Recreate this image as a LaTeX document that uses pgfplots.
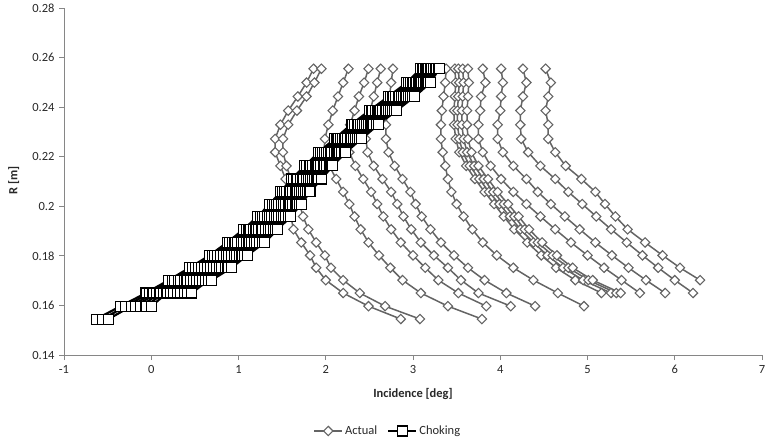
\documentclass[border=0pt]{standalone}
\usepackage{fontspec}
\setmainfont{Carlito}
\usepackage{pgfplots}
\usepackage{pgfplotstable}
\pgfplotsset{compat=1.18}
\definecolor{actgray}{RGB}{100,100,100}
\definecolor{axgray}{RGB}{134,134,134}
\definecolor{txt}{RGB}{40,40,40}

\pgfplotstableread{
R a1 a2 a3 a4 a5 a6 a7 a8 a9 a10 a11 a12 a13 a14 a15 c1 c2 c3 c4 c5 c6 c7 c8 c9 c10 c11 c12 c13 c14 c15
0.1545 2.86 3.08 3.79 nan nan nan nan nan nan nan nan nan nan nan nan -0.63 -0.56 -0.49 nan nan nan nan nan nan nan nan nan nan nan nan
0.1597 2.49 2.68 3.40 3.84 4.12 4.40 4.96 nan nan nan nan nan nan nan nan -0.35 -0.29 -0.23 -0.18 -0.12 -0.06 0.00 nan nan nan nan nan nan nan nan
0.1650 2.20 2.39 3.09 3.52 3.75 4.07 4.66 5.16 5.27 5.33 5.38 5.60 5.89 6.21 nan -0.06 -0.02 0.02 0.06 0.10 0.14 0.18 0.22 0.26 0.30 0.34 0.38 0.42 0.46 nan
0.1702 2.00 2.20 2.88 3.29 3.55 3.82 4.38 4.86 4.95 5.01 5.06 5.39 5.67 6.00 6.29 0.20 0.24 0.27 0.31 0.34 0.38 0.41 0.45 0.48 0.52 0.55 0.59 0.62 0.66 0.69
0.1752 1.89 2.06 2.74 3.14 3.40 3.63 4.15 4.64 4.72 4.78 4.83 5.19 5.47 5.81 6.06 0.44 0.47 0.51 0.54 0.58 0.61 0.64 0.68 0.71 0.75 0.78 0.81 0.85 0.88 0.92
0.1802 1.82 1.99 2.61 3.00 3.24 3.47 3.96 4.47 4.54 4.60 4.65 5.00 5.28 5.63 5.86 0.67 0.70 0.73 0.76 0.79 0.83 0.86 0.89 0.92 0.95 0.98 1.01 1.04 1.07 1.10
0.1854 1.72 1.89 2.49 2.86 3.09 3.32 3.80 4.31 4.38 4.43 4.48 4.81 5.09 5.45 5.66 0.87 0.90 0.93 0.96 0.99 1.03 1.06 1.09 1.12 1.15 1.18 1.21 1.24 1.27 1.30
0.1907 1.63 1.80 2.40 2.75 2.98 3.20 3.68 4.16 4.23 4.28 4.33 4.63 4.91 5.27 5.46 1.06 1.09 1.12 1.14 1.17 1.20 1.23 1.26 1.28 1.31 1.34 1.37 1.40 1.42 1.45
0.1959 1.60 1.74 2.33 2.66 2.89 3.10 3.58 4.04 4.11 4.16 4.21 4.46 4.74 5.10 5.32 1.22 1.25 1.27 1.30 1.33 1.36 1.38 1.41 1.44 1.46 1.49 1.52 1.54 1.57 1.60
0.2009 1.58 1.70 2.27 2.59 2.82 3.03 3.50 3.93 3.99 4.04 4.09 4.30 4.58 4.94 5.20 1.36 1.39 1.41 1.44 1.46 1.49 1.52 1.54 1.57 1.59 1.62 1.65 1.67 1.70 1.72
0.2058 1.56 1.65 2.20 2.52 2.75 2.97 3.44 3.82 3.87 3.92 3.97 4.15 4.43 4.78 5.09 1.48 1.50 1.53 1.55 1.58 1.60 1.62 1.65 1.67 1.70 1.72 1.74 1.77 1.79 1.82
0.2110 1.54 1.60 2.12 2.43 2.65 2.88 3.40 3.71 3.76 3.81 3.86 4.01 4.30 4.63 4.93 1.61 1.63 1.66 1.68 1.71 1.73 1.75 1.78 1.80 1.83 1.85 1.87 1.90 1.92 1.95
0.2163 1.48 1.55 2.04 2.34 2.55 2.79 3.37 3.61 3.65 3.70 3.75 3.89 4.15 4.46 4.75 1.76 1.78 1.81 1.83 1.85 1.88 1.90 1.92 1.94 1.97 1.99 2.01 2.04 2.06 2.08
0.2218 1.42 1.51 1.98 2.27 2.48 2.72 3.34 3.53 3.57 3.62 3.67 3.80 4.03 4.32 4.63 1.92 1.94 1.96 1.99 2.01 2.03 2.05 2.07 2.10 2.12 2.14 2.16 2.18 2.21 2.23
0.2272 1.42 1.51 1.99 2.25 2.46 2.69 3.32 3.49 3.53 3.58 3.63 3.75 3.97 4.24 4.55 2.10 2.12 2.14 2.17 2.19 2.21 2.23 2.25 2.28 2.30 2.32 2.34 2.36 2.39 2.41
0.2329 1.48 1.57 2.03 2.28 2.48 2.69 3.32 3.47 3.51 3.56 3.62 3.75 3.97 4.23 4.55 2.29 2.31 2.33 2.36 2.38 2.40 2.42 2.44 2.47 2.49 2.51 2.53 2.55 2.58 2.60
0.2386 1.57 1.67 2.08 2.33 2.51 2.71 3.33 3.47 3.51 3.56 3.62 3.77 4.00 4.23 4.52 2.50 2.52 2.54 2.57 2.59 2.61 2.63 2.65 2.68 2.70 2.72 2.74 2.76 2.79 2.81
0.2443 1.68 1.78 2.14 2.38 2.55 2.73 3.35 3.48 3.52 3.57 3.63 3.78 4.01 4.26 4.55 2.72 2.74 2.76 2.78 2.80 2.83 2.85 2.87 2.89 2.91 2.93 2.95 2.97 2.99 3.02
0.2499 1.78 1.87 2.20 2.44 2.59 2.75 3.37 3.49 3.53 3.58 3.64 3.83 4.03 4.30 4.58 2.93 2.95 2.97 2.99 3.01 3.03 3.04 3.06 3.08 3.10 3.12 3.14 3.16 3.18 3.20
0.2555 1.86 1.95 2.26 2.49 2.63 2.77 3.38 3.48 3.52 3.57 3.63 3.80 4.01 4.26 4.52 3.09 3.11 3.12 3.14 3.15 3.17 3.18 3.20 3.21 3.23 3.24 3.26 3.27 3.29 3.30
}\data

\pgfplotsset{
  act/.style={color=actgray, line width=1.5bp, mark=square*, mark size=3.3bp,
    mark options={rotate=45, fill=white, draw=actgray, line width=1.1bp, solid}},
  chk/.style={color=black, line width=2.2bp, mark=square*, mark size=5bp,
    mark options={fill=white, draw=black, line width=1.1bp, solid}},
}

\begin{document}
\begin{tikzpicture}
\useasboundingbox (0,0) rectangle (767bp,443bp);
\begin{axis}[
  at={(64bp,88bp)}, anchor=south west,
  scale only axis, width=698bp, height=347bp,
  xmin=-1, xmax=7, ymin=0.14, ymax=0.28,
  xtick={-1,0,1,2,3,4,5,6,7},
  ytick={0.14,0.16,0.18,0.2,0.22,0.24,0.26,0.28},
  axis x line*=bottom, axis y line*=left,
  axis line style={draw=axgray, line width=0.8bp},
  tick style={draw=axgray, line width=0.8bp},
  tick align=outside, major tick length=5bp,
  /pgf/number format/assume math mode=true,
  /pgf/number format/fixed, /pgf/number format/precision=2,
  ticklabel style={font=\fontsize{12.5bp}{15bp}\selectfont, text=txt},
  yticklabel style={xshift=-1bp},
  xticklabel style={yshift=-2bp},
  xlabel={\textbf{Incidence [deg]}},
  ylabel={\textbf{R [m]}},
  label style={font=\fontsize{12.5bp}{15bp}\selectfont, text=txt},
  xlabel style={at={(axis description cs:0.5,-0.112)}, anchor=center},
  ylabel style={at={(axis description cs:-0.072,0.504)}, anchor=center, rotate=0},
  legend style={at={(axis description cs:0.464,-0.219)}, anchor=center, draw=none,
    font=\fontsize{12.5bp}{15bp}\selectfont, text=txt,
    /tikz/every even column/.append style={column sep=8bp}},
  legend image code/.code={\draw[mark repeat=2, mark phase=2, #1]
    plot coordinates {(0bp,0bp) (14bp,0bp) (28bp,0bp)};},
  legend columns=2,
  clip=false,
]
\pgfplotsinvokeforeach{1,...,15}{
  \addplot[act, forget plot] table[x=a#1, y=R]{\data};
}
\pgfplotsinvokeforeach{1,...,15}{
  \addplot[chk, forget plot] table[x=c#1, y=R]{\data};
}
\addlegendimage{act}
\addlegendentry{Actual}
\addlegendimage{chk}
\addlegendentry{Choking}
\end{axis}
\end{tikzpicture}
\end{document}
